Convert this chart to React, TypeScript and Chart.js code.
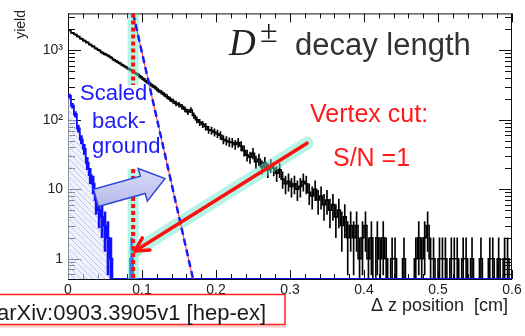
import React, { useEffect, useRef } from 'react';
import { Chart, registerables } from 'chart.js';

Chart.register(...registerables);

// ---------------- data ----------------
const BIN_WIDTH = 0.004;
const X_MIN = 0;
const X_MAX = 0.6;
const Y_MIN = 0.51;
const Y_MAX = 3400;

const xTickValues = [0, 0.1, 0.2, 0.3, 0.4, 0.5, 0.6];
const xTickLabels = ['0', '0.1', '0.2', '0.3', '0.4', '0.5', '0.6'];
const yTickValues = [1, 10, 100, 1000];
const yTickLabels = ['1', '10', '10²', '10³'];

// D± candidates per 0.004 cm bin of Δz
const signalCounts = [
  1950, 1780, 1690, 1580, 1470, 1380, 1300, 1210, 1140, 1060,
  1000, 930, 880, 840, 790, 730, 690, 650, 610, 575,
  540, 515, 480, 450, 415, 385, 355, 335, 310, 290,
  265, 250, 232, 215, 198, 185, 172, 165, 155, 142,
  130, 138, 115, 100, 92, 86, 80, 72, 70, 66,
  63, 60, 52, 50, 48, 47, 44, 47, 42, 36,
  31, 29, 33, 25, 27, 21, 24, 19, 22, 20,
  17, 19, 14, 12, 13, 11, 12, 10, 11, 13,
  12, 9, 8, 10, 7, 8, 6, 7, 5, 6,
  4, 5, 3, 4, 2, 3, 2, 3, 1, 2,
  3, 1, 2, 0, 2, 1, 2, 1, 0, 1,
  1, 0, 0, 1, 0, 0, 0, 1, 2, 1,
  2, 3, 1, 1, 0, 1, 1, 1, 0, 1,
  1, 1, 0, 1, 1, 0, 1, 0, 0, 1,
  0, 0, 1, 1, 0, 1, 0, 1, 1, 0,
];

// scaled background per 0.004 cm bin
const backgroundCounts = [
  220, 160, 120, 75, 52, 38, 24, 16, 12, 7,
  5, 4, 3, 2, 1, 0, 0, 0, 0, 0,
  0, 1, 0, 0, 0, 0, 0, 0, 0, 0,
  0, 0, 0, 0, 0, 0, 0, 0, 0, 0,
  0, 0, 0, 0, 0, 0, 0, 0, 0, 0,
  0, 0, 0, 0, 0, 0, 0, 0, 0, 0,
  0, 0, 0, 0, 0, 0, 0, 0, 0, 0,
  0, 0, 0, 0, 0, 0, 0, 0, 0, 0,
  0, 0, 0, 0, 0, 0, 0, 0, 0, 0,
  0, 0, 0, 0, 0, 0, 0, 0, 0, 0,
  0, 0, 0, 0, 0, 0, 0, 0, 0, 0,
  0, 0, 0, 0, 0, 0, 0, 0, 0, 0,
  0, 0, 0, 0, 0, 0, 0, 0, 0, 0,
  0, 0, 0, 0, 0, 0, 0, 0, 0, 0,
  0, 0, 0, 0, 0, 0, 0, 0, 0, 0,
];

// annotations (data coordinates)
const cutX = 0.088;
const cutHiddenRange = [19.6, 316]; // part of the cut line hidden by the label
const bgSlopeLine = [{ x: 0.088, y: 3400 }, { x: 0.169, y: 0.51 }];
const vertexArrow = [{ x: 0.323, y: 46 }, { x: 0.0905, y: 1.29 }];
const bgArrow = [{ x: 0.0378, y: 7.5 }, { x: 0.131, y: 14.2 }];

const SANS = '"Liberation Sans", Arial, Helvetica, sans-serif';
const SERIF = '"Liberation Serif", "Times New Roman", serif';

// ---------------- helpers ----------------
function stepPoints(counts: number[]) {
  const v = (c: number) => (c > 0 ? c : Y_MIN);
  const pts: { x: number; y: number }[] = [{ x: X_MIN, y: v(counts[0]) }];
  counts.forEach((c, i) => pts.push({ x: X_MIN + (i + 0.5) * BIN_WIDTH, y: v(c) }));
  pts.push({ x: X_MAX, y: v(counts[counts.length - 1]) });
  return pts;
}

function errorBars(counts: number[]) {
  const out: { x: number; y: [number, number] }[] = [];
  counts.forEach((c, i) => {
    if (c > 0) {
      const e = Math.sqrt(c);
      out.push({ x: X_MIN + (i + 0.5) * BIN_WIDTH, y: [Math.max(c - e, Y_MIN), c + e] });
    }
  });
  return out;
}

function makeHatch(): CanvasPattern | string {
  const c = document.createElement('canvas');
  c.width = 6;
  c.height = 6;
  const g = c.getContext('2d');
  if (!g) return 'rgba(180,190,240,0.3)';
  g.fillStyle = 'rgba(228,231,251,0.55)';
  g.fillRect(0, 0, 6, 6);
  g.strokeStyle = '#b3bcee';
  g.lineWidth = 0.8;
  g.beginPath();
  g.moveTo(0, 0);
  g.lineTo(6, 6);
  g.moveTo(-1, 5);
  g.lineTo(1, 7);
  g.moveTo(5, -1);
  g.lineTo(7, 1);
  g.stroke();
  const p = g.createPattern(c, 'repeat');
  return p || 'rgba(180,190,240,0.3)';
}

const framePlugin = {
  id: 'rootFrame',
  beforeDatasetsDraw(chart: any) {
    const { ctx, chartArea: a, scales } = chart;
    const xs = scales.x;
    const ys = scales.y;
    ctx.save();
    ctx.strokeStyle = '#111';
    ctx.lineWidth = 1;
    ctx.strokeRect(a.left + 0.5, a.top + 0.5, a.right - a.left - 1, a.bottom - a.top);
    ctx.beginPath();
    // x ticks (inside, bottom and top)
    for (let k = 0; k <= 30; k++) {
      const v = k * 0.02;
      const px = Math.round(xs.getPixelForValue(v)) + 0.5;
      const len = k % 5 === 0 ? 9 : 5;
      ctx.moveTo(px, a.bottom);
      ctx.lineTo(px, a.bottom - len);
      ctx.moveTo(px, a.top);
      ctx.lineTo(px, a.top + len);
    }
    // y ticks (log)
    for (let d = -1; d <= 3; d++) {
      for (let m = 1; m <= 9; m++) {
        const v = m * Math.pow(10, d);
        if (v < Y_MIN || v > Y_MAX) continue;
        const py = Math.round(ys.getPixelForValue(v)) + 0.5;
        const len = m === 1 ? 13 : 7;
        ctx.moveTo(a.left, py);
        ctx.lineTo(a.left + len, py);
        ctx.moveTo(a.right, py);
        ctx.lineTo(a.right - len, py);
      }
    }
    ctx.stroke();
    ctx.restore();
  },
  afterDatasetsDraw(chart: any) {
    const { ctx, scales } = chart;
    const xs = scales.x;
    const ys = scales.y;
    const P = (p: { x: number; y: number }) => ({ x: xs.getPixelForValue(p.x), y: ys.getPixelForValue(p.y) });
    ctx.save();
    // red arrow head
    const f = P(vertexArrow[0]);
    const t = P(vertexArrow[1]);
    const ang = Math.atan2(t.y - f.y, t.x - f.x);
    ctx.strokeStyle = '#ff1010';
    ctx.lineWidth = 3.5;
    ctx.lineCap = 'round';
    ctx.beginPath();
    for (const s of [-1, 1]) {
      const aa = ang + Math.PI + s * 0.5;
      ctx.moveTo(t.x, t.y);
      ctx.lineTo(t.x + 15 * Math.cos(aa), t.y + 15 * Math.sin(aa));
    }
    ctx.stroke();

    // block arrow
    const T = P(bgArrow[0]);
    const H = P(bgArrow[1]);
    const L = Math.hypot(H.x - T.x, H.y - T.y);
    const u = { x: (H.x - T.x) / L, y: (H.y - T.y) / L };
    const n = { x: -u.y, y: u.x };
    const hl = 23, sw = 9, hw = 17;
    const B = { x: H.x - u.x * hl, y: H.y - u.y * hl };
    const pts = [
      [T.x + n.x * sw, T.y + n.y * sw],
      [B.x + n.x * sw, B.y + n.y * sw],
      [B.x + n.x * hw, B.y + n.y * hw],
      [H.x, H.y],
      [B.x - n.x * hw, B.y - n.y * hw],
      [B.x - n.x * sw, B.y - n.y * sw],
      [T.x - n.x * sw, T.y - n.y * sw],
    ];
    const grad = ctx.createLinearGradient(0, H.y - 20, 0, T.y + 10);
    grad.addColorStop(0, '#e4e4fa');
    grad.addColorStop(1, '#b4b8ea');
    ctx.beginPath();
    pts.forEach((p, i) => (i ? ctx.lineTo(p[0], p[1]) : ctx.moveTo(p[0], p[1])));
    ctx.closePath();
    ctx.fillStyle = grad;
    ctx.fill();
    ctx.strokeStyle = '#3048d8';
    ctx.lineWidth = 1.5;
    ctx.lineJoin = 'miter';
    ctx.stroke();
    ctx.restore();
  },
  afterDraw(chart: any) {
    const ctx = chart.ctx;
    ctx.save();
    ctx.textBaseline = 'alphabetic';

    // y title
    ctx.save();
    ctx.translate(25, 10);
    ctx.rotate(-Math.PI / 2);
    ctx.font = `14px ${SANS}`;
    ctx.fillStyle = '#222';
    ctx.textAlign = 'right';
    ctx.fillText('yield', 0, 0);
    ctx.restore();

    // x title
    ctx.font = `18px ${SANS}`;
    ctx.fillStyle = '#222';
    ctx.textAlign = 'right';
    ctx.fillText('Δ z position  [cm]', 508, 311);

    // plot title
    ctx.textAlign = 'left';
    ctx.fillStyle = '#222';
    ctx.font = `italic 37px ${SERIF}`;
    ctx.fillText('D', 229, 55);
    ctx.font = `32px ${SERIF}`;
    ctx.fillText('±', 260, 42);
    ctx.fillStyle = '#333';
    ctx.font = `31px ${SANS}`;
    ctx.fillText('decay length', 295, 55);

    // background label
    ctx.fillStyle = '#1a1aff';
    ctx.font = `22px ${SANS}`;
    ctx.fillText('Scaled', 80, 100);
    ctx.fillText('back-', 92, 128);
    ctx.fillText('ground', 92, 153);

    // cut label
    ctx.fillStyle = '#ff1a1a';
    ctx.font = `25px ${SANS}`;
    ctx.fillText('Vertex cut:', 310, 122);
    ctx.fillText('S/N =1', 333, 166);

    // arXiv stamp
    ctx.strokeStyle = 'rgba(255,160,160,0.6)';
    ctx.lineWidth = 2;
    ctx.beginPath();
    ctx.moveTo(-5, 326.5);
    ctx.lineTo(286, 326.5);
    ctx.stroke();
    ctx.strokeStyle = '#ff2020';
    ctx.lineWidth = 1.5;
    ctx.strokeRect(-5, 294.5, 290, 30);
    ctx.fillStyle = '#1a1a1a';
    ctx.font = `22px ${SANS}`;
    ctx.fillText('arXiv:0903.3905v1 [hep-ex]', -3, 320);
    ctx.restore();
  },
};

export default function App() {
  const ref = useRef<HTMLCanvasElement | null>(null);

  useEffect(() => {
    document.body.style.margin = '0';
    const canvas = ref.current;
    if (!canvas) return;
    const hatch = makeHatch();

    const glow = 'rgba(110,235,205,0.5)';
    const chart = new Chart(canvas, {
      type: 'line',
      data: {
        datasets: [
          {
            type: 'line',
            data: stepPoints(signalCounts),
            borderColor: '#000',
            borderWidth: 1.6,
            pointRadius: 0,
            stepped: 'middle',
            fill: false,
            order: 10,
          } as any,
          {
            type: 'bar',
            data: errorBars(signalCounts),
            backgroundColor: '#000',
            barThickness: 1,
            grouped: false,
            order: 9,
          } as any,
          {
            type: 'line',
            data: stepPoints(backgroundCounts),
            borderColor: '#1010ff',
            borderWidth: 1.8,
            pointRadius: 0,
            stepped: 'middle',
            fill: 'start',
            backgroundColor: hatch,
            order: 8,
          } as any,
          {
            type: 'bar',
            data: errorBars(backgroundCounts),
            backgroundColor: '#1010ff',
            barThickness: 2,
            grouped: false,
            order: 7,
          } as any,
          {
            type: 'line',
            data: [
              { x: cutX, y: Y_MAX },
              { x: cutX, y: cutHiddenRange[1] },
              { x: cutX, y: null },
              { x: cutX, y: cutHiddenRange[0] },
              { x: cutX, y: Y_MIN },
            ],
            borderColor: glow,
            borderWidth: 11,
            pointRadius: 0,
            fill: false,
            order: 6,
          } as any,
          {
            type: 'line',
            data: vertexArrow,
            borderColor: glow,
            borderWidth: 13,
            borderCapStyle: 'round',
            pointRadius: 0,
            fill: false,
            order: 6,
          } as any,
          {
            type: 'line',
            data: bgSlopeLine,
            borderColor: '#ff3030',
            borderWidth: 1,
            pointRadius: 0,
            fill: false,
            order: 5,
          } as any,
          {
            type: 'line',
            data: bgSlopeLine,
            borderColor: '#1a1aff',
            borderWidth: 2.5,
            borderDash: [7, 4],
            pointRadius: 0,
            fill: false,
            order: 4,
          } as any,
          {
            type: 'line',
            data: [
              { x: cutX, y: Y_MAX },
              { x: cutX, y: cutHiddenRange[1] },
              { x: cutX, y: null },
              { x: cutX, y: cutHiddenRange[0] },
              { x: cutX, y: Y_MIN },
            ],
            borderColor: '#ff1010',
            borderWidth: 4,
            borderDash: [4, 3],
            pointRadius: 0,
            fill: false,
            order: 3,
          } as any,
          {
            type: 'line',
            data: vertexArrow,
            borderColor: '#ff1010',
            borderWidth: 3.5,
            borderCapStyle: 'round',
            pointRadius: 0,
            fill: false,
            order: 2,
          } as any,
        ],
      },
      options: {
        responsive: false,
        animation: false,
        events: [],
        layout: { padding: { top: 5, right: 13, left: 0, bottom: 0 } },
        plugins: { legend: { display: false }, tooltip: { enabled: false } },
        scales: {
          x: {
            type: 'linear',
            min: X_MIN,
            max: X_MAX,
            offset: false,
            grid: { display: false, drawTicks: false },
            border: { display: false },
            afterBuildTicks: (s: any) => {
              s.ticks = xTickValues.map((v) => ({ value: v }));
            },
            afterFit: (s: any) => {
              s.height = 57;
            },
            ticks: {
              callback: (_v: any, i: number) => xTickLabels[i],
              font: { family: SANS, size: 14 },
              color: '#222',
              padding: 3,
              maxRotation: 0,
              autoSkip: false,
            },
          },
          y: {
            type: 'logarithmic',
            min: Y_MIN,
            max: Y_MAX,
            grid: { display: false, drawTicks: false },
            border: { display: false },
            afterBuildTicks: (s: any) => {
              s.ticks = yTickValues.map((v) => ({ value: v }));
            },
            afterFit: (s: any) => {
              s.width = 68;
            },
            ticks: {
              callback: (_v: any, i: number) => yTickLabels[i],
              font: { family: SANS, size: 14 },
              color: '#222',
              padding: 5,
              autoSkip: false,
            },
          },
        },
      } as any,
      plugins: [framePlugin],
    });

    return () => chart.destroy();
  }, []);

  return <canvas ref={ref} width={525} height={336} style={{ display: 'block' }} />;
}
